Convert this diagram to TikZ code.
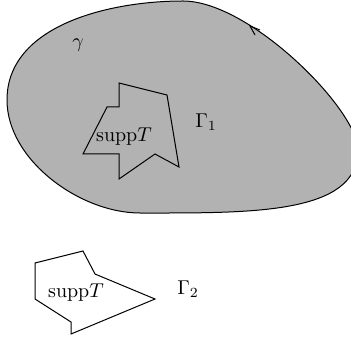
\documentclass[tikz,border=0pt]{standalone}
\begin{document}
\begin{tikzpicture}[x=0.5pt,y=-0.5pt,
  blob/.style={draw=black,fill=black!30,line width=0.5pt},
  poly/.style={draw=black,line width=0.5pt,line join=miter},
  lbl/.style={inner sep=0pt}]
\useasboundingbox (0,0) rectangle (351,341);
\begin{scope}
\clip (0,0) rectangle (351,341);
\draw[blob] (183,1) .. controls (110,1) and (7,25) .. (7,100)
  .. controls (7,160) and (80,213) .. (140,213)
  .. controls (250,213) and (358,215) .. (358,150)
  .. controls (358,110) and (250,1) .. (183,1) -- cycle;
\end{scope}
% arrowhead on gamma
\draw[line width=0.5pt] (260,30) -- (250,26) -- (255,35);
% inner support polygon
\draw[poly] (119,83) -- (167,95) -- (179,167) -- (155,154) -- (119,179) -- (119,154)
  -- (83,154) -- (107,107) -- (119,107) -- cycle;
% lower support polygon
\draw[poly] (35,263) -- (83,251) -- (95,274) -- (155,299) -- (71,334) -- (71,322) -- (35,299) -- cycle;
\node[lbl] (g) at (78,45) {$\gamma$};
\node[lbl] (G1) at (206,122) {$\Gamma_1$};
\node[lbl] (s1) at (124,137) {$\mathrm{supp}T$};
\node[lbl] (s2) at (76,293) {$\mathrm{supp}T$};
\node[lbl] (G2) at (188,289) {$\Gamma_2$};
\end{tikzpicture}
\end{document}
